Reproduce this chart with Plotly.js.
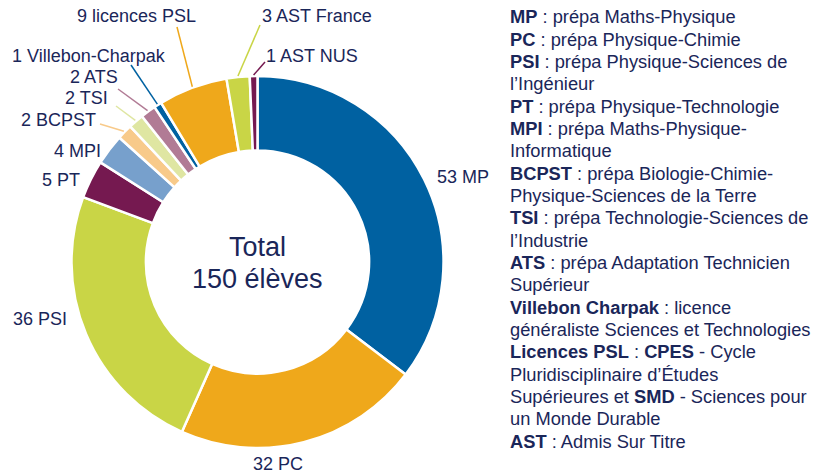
<!DOCTYPE html>
<html>
<head>
<meta charset="utf-8">
<script src="https://cdn.plot.ly/plotly-3.0.1.min.js"></script>
<style>
  html, body { margin: 0; padding: 0; background: #fff; }
  #chart { width: 827px; height: 476px; }
</style>
</head>
<body>
<div id="chart"></div>
<script>
// Effectifs par filière d'origine
const categories = ['MP', 'PC', 'PSI', 'PT', 'MPI', 'BCPST', 'TSI', 'ATS',
    'Villebon-Charpak', 'licences PSL', 'AST France', 'AST NUS'];
const students = [53, 32, 36, 5, 4, 2, 2, 2, 1, 9, 3, 1];
const sliceColors = ['#0061a1', '#efa81b', '#c9d546', '#751950', '#77a0cc', '#f8ca8a',
    '#dfe6a2', '#b17b95', '#0061a1', '#efa81b', '#c9d546', '#751950'];

const glossary = [
    ['MP', 'prépa Maths-Physique'],
    ['PC', 'prépa Physique-Chimie'],
    ['PSI', 'prépa Physique-Sciences de<br>l’Ingénieur'],
    ['PT', 'prépa Physique-Technologie'],
    ['MPI', 'prépa Maths-Physique-<br>Informatique'],
    ['BCPST', 'prépa Biologie-Chimie-<br>Physique-Sciences de la Terre'],
    ['TSI', 'prépa Technologie-Sciences de<br>l’Industrie'],
    ['ATS', 'prépa Adaptation Technicien<br>Supérieur'],
    ['Villebon Charpak', 'licence<br>généraliste Sciences et Technologies'],
    ['Licences PSL', '<b>CPES</b> - Cycle<br>Pluridisciplinaire d’Études<br>Supérieures et <b>SMD</b> - Sciences pour<br>un Monde Durable'],
    ['AST', 'Admis Sur Titre']
];

const W = 827, H = 476;
const navy = '#1a2659';
const FONT = 'Liberation Sans, Arial, sans-serif';

// geometry of the donut, in pixels
const cx = 257.5, cy = 262, R = 186;

// where each label sits (text centre) and where its leader line starts (null = none)
const labelPos = [[463, 177], [278, 464], [40, 319], [61, 180], [77, 151], [58, 120],
    [86, 98], [94, 77], [89, 56], [136, 16], [317, 16], [312, 56]];
const leaderStart = [null, null, null, null, null, [100, 124], [116, 106], [118, 89],
    [131, 65], [177, 27], [260, 25], [265, 62]];

const total = students.reduce((a, b) => a + b, 0);
const px = x => x / W;
const py = y => 1 - y / H;

// mid-angle of every slice, clockwise from 12 o'clock
let cum = 0;
const midAngles = students.map(v => {
    const a = (cum + v / 2) / total * 2 * Math.PI;
    cum += v;
    return a;
});

const annotations = categories.map((c, i) => ({
    text: students[i] + ' ' + c,
    x: px(labelPos[i][0]), y: py(labelPos[i][1]),
    xref: 'paper', yref: 'paper',
    xanchor: 'center', yanchor: 'middle',
    showarrow: false,
    font: { size: 18, color: navy }
}));

// centre text
[['Total', 247], [total + ' élèves', 279]].forEach(t => {
    annotations.push({
        text: t[0],
        x: px(cx), y: py(t[1]),
        xref: 'paper', yref: 'paper',
        xanchor: 'center', yanchor: 'middle',
        showarrow: false,
        font: { size: 27, color: navy }
    });
});

// glossary on the right, one annotation per line
const glossLines = glossary.map(g => '<b>' + g[0] + '</b> : ' + g[1]).join('<br>').split('<br>');
glossLines.forEach((line, k) => {
    annotations.push({
        text: line,
        x: px(508), y: py(17 + k * 22.33),
        xref: 'paper', yref: 'paper',
        xanchor: 'left', yanchor: 'middle', align: 'left',
        showarrow: false,
        font: { size: 18.3, color: navy }
    });
});

const shapes = [];
leaderStart.forEach((s, i) => {
    if (!s) return;
    const a = midAngles[i];
    shapes.push({
        type: 'line', xref: 'paper', yref: 'paper',
        x0: px(s[0]), y0: py(s[1]),
        x1: px(cx + (R + 1) * Math.sin(a)), y1: py(cy - (R + 1) * Math.cos(a)),
        line: { color: sliceColors[i], width: 1.5 }
    });
});

const data = [{
    type: 'pie',
    labels: categories,
    values: students,
    textinfo: 'none',
    hole: 0.6,
    sort: false,
    direction: 'clockwise',
    rotation: 0,
    marker: { colors: sliceColors, line: { color: '#ffffff', width: 2.5 } },
    domain: { x: [px(cx - R), px(cx + R)], y: [py(cy + R), py(cy - R)] },
    showlegend: false,
    hoverinfo: 'label+value'
}];

const layout = {
    width: W,
    height: H,
    margin: { l: 0, r: 0, t: 0, b: 0 },
    paper_bgcolor: '#ffffff',
    font: { family: FONT, color: navy },
    annotations: annotations,
    shapes: shapes
};

Plotly.newPlot('chart', data, layout, { displayModeBar: false, staticPlot: true });
</script>
</body>
</html>
